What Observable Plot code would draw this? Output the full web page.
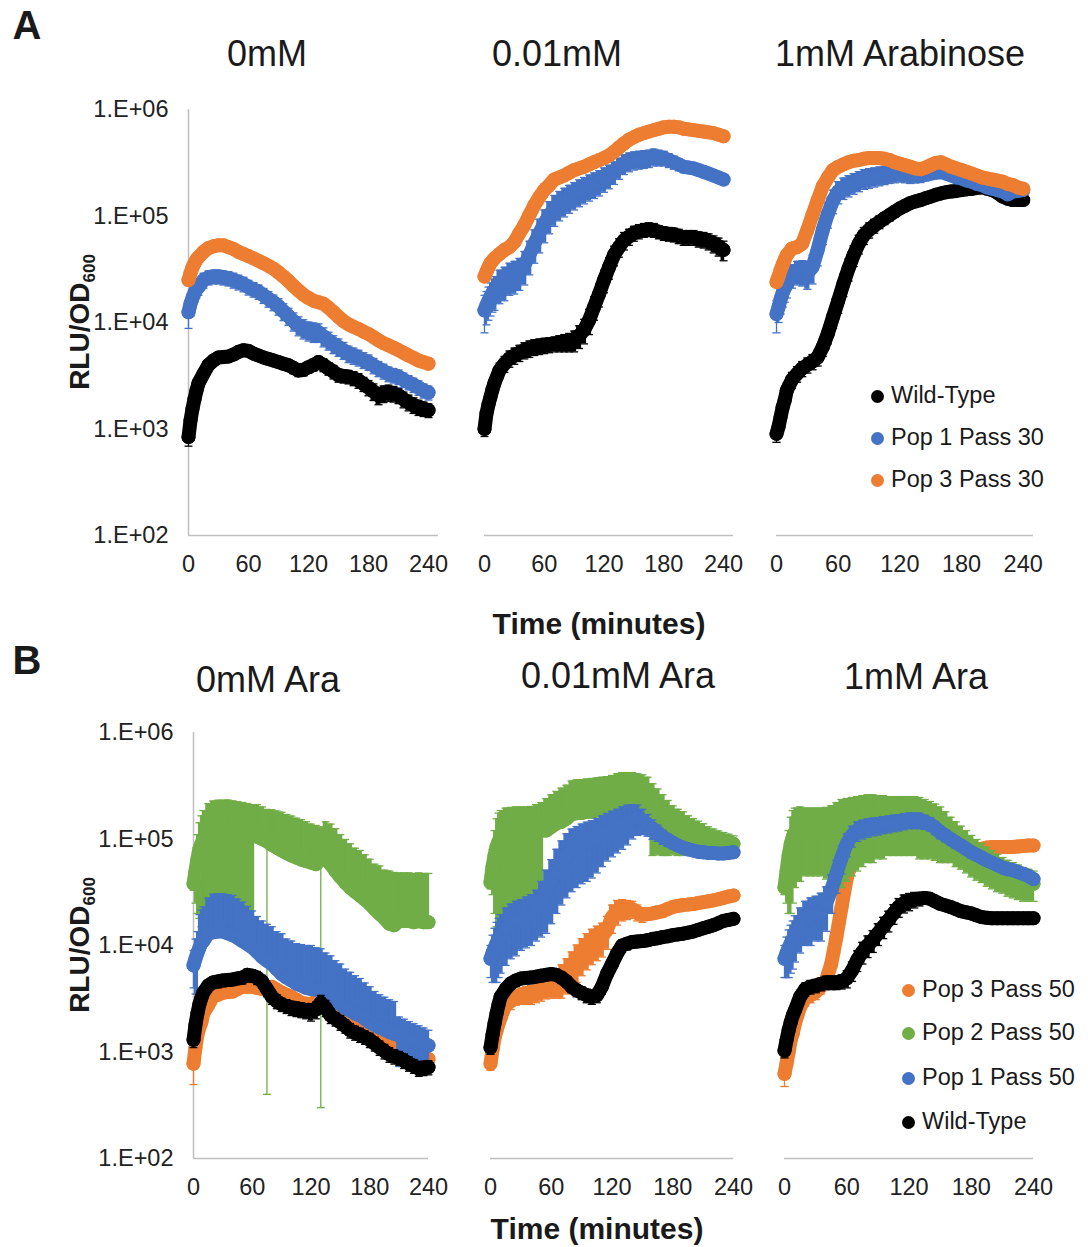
<!DOCTYPE html>
<html><head><meta charset="utf-8">
<script src="https://cdn.jsdelivr.net/npm/d3@7"></script>
<script src="https://cdn.jsdelivr.net/npm/@observablehq/plot@0.6"></script>
<style>
body{margin:0;background:#fff;}
#fig{position:relative;width:1088px;height:1247px;background:#fff;font-family:"Liberation Sans",Arial,sans-serif;color:#1a1a1a;overflow:hidden}
.abs{position:absolute;white-space:nowrap;line-height:1;transform:translate(-50%,-50%)}
.pnl{position:absolute}
.title{font-size:36px}
.letter{font-size:40px;font-weight:bold}
.xt{font-size:30px;font-weight:bold}
.yl{font-size:28px;font-weight:bold;transform:translate(-50%,-50%) rotate(-90deg)}
.lg{position:absolute;white-space:nowrap;line-height:1;font-size:23.5px;transform:translateY(-50%);color:#1a1a1a}
.ld{position:absolute;width:13px;height:13px;border-radius:50%}
</style></head>
<body><div id="fig"></div>
<script>
// ---------------- data ----------------
const times = [0,2,4,6,8,
  10,15,20,25,30,35,40,45,50,55,
  60,65,70,75,80,85,90,95,100,105,
  110,115,120,125,130,135,140,145,150,155,
  160,165,170,175,180,185,190,195,200,205,
  210,215,220,225,230,235,240];
const xTicks = [0,60,120,180,240];
const yTicks = [1e2,1e3,1e4,1e5,1e6];
const titlesA = ["0mM","0.01mM","1mM Arabinose"];
const titlesB = ["0mM Ara","0.01mM Ara","1mM Ara"];
const legendA = ["Wild-Type","Pop 1 Pass 30","Pop 3 Pass 30"];
const legendB = ["Pop 3 Pass 50","Pop 2 Pass 50","Pop 1 Pass 50","Wild-Type"];
const xAxisTitle = "Time (minutes)";

// Panel A1 (0mM)
const a1_wt = [840,1.2e3,1.55e3,1.9e3,2.3e3,
  2.7e3,3.3e3,4.0e3,4.4e3,4.7e3,4.75e3,4.8e3,5.0e3,5.3e3,5.5e3,
  5.4e3,5.1e3,4.9e3,4.7e3,4.55e3,4.4e3,4.25e3,4.1e3,3.97e3,3.75e3,
  3.55e3,3.6e3,3.8e3,4.0e3,4.25e3,4.0e3,3.7e3,3.45e3,3.2e3,3.15e3,
  3.1e3,3.0e3,2.86e3,2.65e3,2.45e3,2.25e3,2.07e3,2.15e3,2.2e3,2.15e3,
  2.07e3,1.9e3,1.78e3,1.68e3,1.6e3,1.55e3,1.5e3];
const a1_wt_sd = [150,200,250,300,300,
  350,400,450,450,450,450,450,450,500,500,
  500,450,450,450,450,450,450,450,450,450,
  450,450,450,500,550,550,500,500,450,450,
  450,450,450,400,400,400,380,380,380,360,
  340,320,300,280,260,240,220];
const a1_p1 = [1.25e4,1.5e4,1.7e4,1.9e4,2.05e4,
  2.15e4,2.5e4,2.65e4,2.7e4,2.7e4,2.65e4,2.6e4,2.5e4,2.4e4,2.3e4,
  2.15e4,2.05e4,1.95e4,1.8e4,1.67e4,1.55e4,1.42e4,1.27e4,1.15e4,1.03e4,
  9.4e3,8.8e3,8.4e3,8.2e3,8.1e3,7.4e3,6.8e3,6.3e3,5.9e3,5.5e3,
  5.1e3,4.9e3,4.7e3,4.45e3,4.25e3,3.95e3,3.7e3,3.5e3,3.3e3,3.2e3,
  3.1e3,2.9e3,2.75e3,2.6e3,2.45e3,2.3e3,2.2e3];
const a1_p1_sd = [3.7e3,3.5e3,3.5e3,3.5e3,3.5e3,
  3.5e3,4e3,4e3,4e3,4e3,4e3,4e3,4e3,3.8e3,3.6e3,
  3.4e3,3.2e3,3e3,2.9e3,2.8e3,2.6e3,2.5e3,2.3e3,2.1e3,2e3,
  1.9e3,1.8e3,1.7e3,1.7e3,1.6e3,1.5e3,1.3e3,1.2e3,1.1e3,1e3,
  900,850,800,750,700,650,600,560,520,500,
  480,450,420,400,380,350,330];
const a1_p3 = [2.5e4,2.9e4,3.3e4,3.6e4,3.9e4,
  4.1e4,4.6e4,5.0e4,5.2e4,5.3e4,5.3e4,5.1e4,4.9e4,4.6e4,4.4e4,
  4.2e4,4.0e4,3.8e4,3.6e4,3.4e4,3.2e4,2.95e4,2.7e4,2.45e4,2.2e4,
  2.0e4,1.82e4,1.7e4,1.6e4,1.55e4,1.5e4,1.38e4,1.25e4,1.13e4,1.03e4,
  9.6e3,9.1e3,8.7e3,8.2e3,7.8e3,7.3e3,6.8e3,6.4e3,6.1e3,5.8e3,
  5.5e3,5.2e3,4.9e3,4.65e3,4.4e3,4.25e3,4.1e3];

// Panel A2 (0.01mM)
const a2_wt = [1.0e3,1.4e3,1.7e3,2.0e3,2.35e3,
  2.7e3,3.55e3,4.1e3,4.6e3,4.9e3,5.2e3,5.5e3,5.7e3,5.9e3,6.0e3,
  6.1e3,6.2e3,6.3e3,6.4e3,6.5e3,6.6e3,6.8e3,7.5e3,8.5e3,1.05e4,
  1.4e4,1.85e4,2.5e4,3.3e4,4.3e4,5.1e4,5.9e4,6.4e4,6.9e4,7.2e4,
  7.4e4,7.5e4,7.4e4,7.1e4,6.9e4,6.8e4,6.7e4,6.5e4,6.3e4,6.3e4,
  6.3e4,6.1e4,6.0e4,5.8e4,5.5e4,5.2e4,4.8e4];
const a2_wt_sd = [150,250,300,400,450,
  500,600,700,800,850,900,950,1e3,1e3,1e3,
  1e3,1e3,1e3,1.1e3,1.2e3,1.3e3,1.5e3,1.8e3,2.2e3,2.8e3,
  3.5e3,4.5e3,6e3,7.5e3,9e3,1e4,1.1e4,1.1e4,1.1e4,1.1e4,
  1.1e4,1.1e4,1.1e4,1e4,1e4,1e4,1e4,1e4,1e4,1e4,
  1e4,1e4,1e4,1e4,1e4,1e4,1e4];
const a2_p1 = [1.3e4,1.45e4,1.6e4,1.75e4,1.9e4,
  2.0e4,2.3e4,2.45e4,2.7e4,2.8e4,3.0e4,3.45e4,4.3e4,5.5e4,6.9e4,
  8.5e4,1.02e5,1.18e5,1.3e5,1.4e5,1.5e5,1.6e5,1.7e5,1.8e5,1.9e5,
  2.0e5,2.1e5,2.25e5,2.4e5,2.6e5,2.85e5,3.1e5,3.25e5,3.35e5,3.4e5,
  3.45e5,3.5e5,3.6e5,3.55e5,3.5e5,3.35e5,3.2e5,3.05e5,2.9e5,2.85e5,
  2.8e5,2.7e5,2.6e5,2.5e5,2.4e5,2.3e5,2.2e5];
const a2_p1_sd = [5e3,5e3,5.5e3,6e3,6.5e3,
  7e3,8e3,8.5e3,9e3,9.5e3,1e4,1.2e4,1.5e4,1.9e4,2.4e4,
  2.9e4,3.4e4,3.8e4,4.0e4,4.2e4,4.4e4,4.6e4,4.8e4,5.0e4,5.2e4,
  5.4e4,5.6e4,5.8e4,6.0e4,6.2e4,6.4e4,6.5e4,6.5e4,6.5e4,6.5e4,
  6.5e4,6.5e4,6.5e4,6.0e4,5.5e4,5.0e4,4.5e4,4.0e4,3.5e4,3.2e4,
  3.0e4,2.8e4,2.6e4,2.4e4,2.2e4,2.0e4,1.8e4];
const a2_p3 = [2.7e4,3.0e4,3.3e4,3.6e4,3.8e4,
  4.0e4,4.4e4,4.8e4,5.1e4,5.7e4,6.9e4,8.2e4,1.02e5,1.26e5,1.5e5,
  1.75e5,1.95e5,2.2e5,2.3e5,2.4e5,2.55e5,2.7e5,2.8e5,2.9e5,3.05e5,
  3.2e5,3.35e5,3.5e5,3.7e5,4.0e5,4.4e5,4.8e5,5.2e5,5.5e5,5.8e5,
  6.0e5,6.2e5,6.4e5,6.6e5,6.8e5,6.9e5,6.9e5,6.8e5,6.6e5,6.5e5,
  6.4e5,6.3e5,6.2e5,6.1e5,6.0e5,5.8e5,5.6e5];
const a2_p3_sd = [2e3,2e3,2e3,2.5e3,2.5e3,
  3e3,3e3,3.5e3,4e3,5e3,7e3,1e4,1.4e4,1.8e4,2.2e4,
  2.5e4,2.5e4,2.5e4,2.5e4,2.5e4,2.5e4,2.5e4,2.5e4,2.5e4,2.5e4,
  2.5e4,2.5e4,2.5e4,3e4,3e4,3e4,3e4,3e4,3e4,3e4,
  3e4,3e4,3e4,3e4,3e4,3e4,3e4,3e4,3e4,3e4,
  3e4,3e4,3e4,3e4,3e4,3e4,3e4];

// Panel A3 (1mM Arabinose)
const a3_wt = [9.0e2,1.05e3,1.3e3,1.6e3,1.86e3,
  2.3e3,2.9e3,3.3e3,3.7e3,4.0e3,4.3e3,4.7e3,5.9e3,7.9e3,1.13e4,
  1.6e4,2.3e4,3.2e4,4.3e4,5.5e4,6.6e4,7.4e4,8.1e4,8.8e4,9.5e4,
  1.02e5,1.1e5,1.18e5,1.25e5,1.32e5,1.37e5,1.41e5,1.47e5,1.52e5,1.58e5,
  1.63e5,1.67e5,1.7e5,1.72e5,1.75e5,1.78e5,1.8e5,1.84e5,1.87e5,1.8e5,
  1.75e5,1.65e5,1.52e5,1.45e5,1.41e5,1.41e5,1.41e5];
const a3_wt_sd = [150,200,250,300,350,
  400,500,550,600,650,700,800,1.1e3,1.6e3,2.5e3,
  3.8e3,5.5e3,7.5e3,9.5e3,1.1e4,1.2e4,1.2e4,1.2e4,1.2e4,1.2e4,
  1.2e4,1.2e4,1.2e4,1.2e4,1.2e4,1.2e4,1.2e4,1.2e4,1.2e4,1.2e4,
  1.2e4,1.2e4,1.2e4,1.2e4,1.2e4,1.2e4,1.2e4,1.2e4,1.2e4,1.2e4,
  1.2e4,1.2e4,1.2e4,1.2e4,1.2e4,1.2e4,1.2e4];
const a3_p1 = [1.2e4,1.4e4,1.65e4,1.9e4,2.1e4,
  2.3e4,2.8e4,3.0e4,3.0e4,2.9e4,3.3e4,4.8e4,7.4e4,1.05e5,1.4e5,
  1.7e5,1.85e5,1.95e5,2.05e5,2.15e5,2.25e5,2.3e5,2.35e5,2.4e5,2.45e5,
  2.5e5,2.5e5,2.5e5,2.45e5,2.4e5,2.4e5,2.4e5,2.45e5,2.5e5,2.55e5,
  2.6e5,2.5e5,2.4e5,2.3e5,2.25e5,2.15e5,2.1e5,2.0e5,1.95e5,1.85e5,
  1.8e5,1.75e5,1.7e5,1.6e5,1.7e5,1.72e5,1.75e5];
const a3_p1_sd = [4e3,4e3,4.5e3,5e3,5.5e3,
  6e3,7e3,7.5e3,8e3,8.5e3,1e4,1.4e4,2e4,2.8e4,3.5e4,
  4e4,4.2e4,4.4e4,4.5e4,4.6e4,4.7e4,4.8e4,4.8e4,4.8e4,4.8e4,
  4.8e4,4.5e4,4.2e4,4e4,3.8e4,3.6e4,3.4e4,3.2e4,3e4,2.8e4,
  2.6e4,2.4e4,2.2e4,2e4,1.8e4,1.6e4,1.5e4,1.4e4,1.3e4,1.2e4,
  1.1e4,1e4,1e4,1e4,1e4,1e4,1e4];
const a3_p3 = [2.4e4,2.7e4,3.1e4,3.5e4,3.9e4,
  4.3e4,4.95e4,5.1e4,5.5e4,7.4e4,1.02e5,1.4e5,1.9e5,2.3e5,2.7e5,
  2.9e5,3.05e5,3.2e5,3.3e5,3.35e5,3.45e5,3.5e5,3.5e5,3.5e5,3.45e5,
  3.35e5,3.2e5,3.1e5,3.0e5,2.9e5,2.8e5,2.75e5,2.85e5,3.0e5,3.15e5,
  3.2e5,3.05e5,2.9e5,2.8e5,2.7e5,2.6e5,2.5e5,2.4e5,2.3e5,2.25e5,
  2.2e5,2.15e5,2.1e5,2.0e5,1.95e5,1.85e5,1.8e5];
const a3_p3_sd = [2e3,2e3,2.5e3,3e3,3e3,
  3.5e3,4e3,4e3,5e3,8e3,1.2e4,1.8e4,2.4e4,2.8e4,3e4,
  3e4,3e4,3e4,3e4,3e4,3e4,3e4,3e4,3e4,3e4,
  3e4,3e4,3e4,3e4,2.5e4,2.5e4,2.5e4,2.5e4,2.5e4,2.5e4,
  2.5e4,2.5e4,2.5e4,2e4,2e4,2e4,2e4,2e4,2e4,2e4,
  2e4,2e4,2e4,1.5e4,1.5e4,1.5e4,1.5e4];

// Panel B1 (0mM Ara)
const b1_p3 = [775,1.1e3,1.45e3,1.7e3,1.9e3,
  2.3e3,2.75e3,3.3e3,3.45e3,3.6e3,3.65e3,3.7e3,3.9e3,4.1e3,4.1e3,
  4.1e3,4.0e3,3.9e3,3.8e3,4.1e3,3.85e3,3.6e3,3.45e3,3.3e3,3.1e3,
  2.9e3,2.85e3,2.8e3,3.0e3,3.6e3,3.3e3,2.7e3,2.45e3,2.2e3,2.05e3,
  1.9e3,1.78e3,1.65e3,1.54e3,1.43e3,1.33e3,1.24e3,1.2e3,1.15e3,1.11e3,
  1.07e3,1.03e3,1.0e3,960,930,890,860];
const b1_p3_sd = [280,150,150,150,200,
  200,250,300,300,300,300,300,300,300,300,
  300,300,300,300,300,300,300,250,250,250,
  250,250,250,250,250,250,200,200,200,150,
  150,150,150,120,120,100,100,100,100,100,
  100,100,100,80,80,80,80];
const b1_p2 = [3.8e4,5e4,6.5e4,8e4,9e4,
  1.0e5,1.15e5,1.22e5,1.24e5,1.24e5,1.24e5,1.22e5,1.2e5,1.18e5,1.15e5,
  1.12e5,1.05e5,1.0e5,9.5e4,8.8e4,8.3e4,7.8e4,7.4e4,7.0e4,6.7e4,
  6.4e4,6.2e4,6.0e4,5.8e4,6.5e4,6.5e4,5.8e4,5.0e4,4.4e4,3.9e4,
  3.5e4,3.2e4,2.95e4,2.7e4,2.46e4,2.2e4,1.98e4,1.8e4,1.6e4,1.55e4,
  1.7e4,1.7e4,1.7e4,1.65e4,1.7e4,1.65e4,1.65e4];
const b1_p2_sd = [5e3,2.5e4,4.5e4,6.2e4,7.5e4,
  8.5e4,1.0e5,1.05e5,1.07e5,1.07e5,1.08e5,1.06e5,1.04e5,1.02e5,1.0e5,
  9.8e4,1.05e5,1.0e5,9.46e4,1.0e5,1.0e5,1.0e5,9.6e4,9.4e4,9.0e4,
  8.8e4,8.3e4,7.8e4,7.6e4,6.47e4,8.0e4,8.0e4,7.5e4,6.6e4,6.0e4,
  5.5e4,5.0e4,4.85e4,4.4e4,4.0e4,3.6e4,3.6e4,3.3e4,3.4e4,3.3e4,
  3.1e4,3.1e4,3.1e4,3.1e4,3.1e4,3.1e4,3.1e4];
const b1_p1 = [6.5e3,7.5e3,8.5e3,9.5e3,1.05e4,
  1.1e4,1.29e4,1.33e4,1.35e4,1.35e4,1.3e4,1.25e4,1.18e4,1.1e4,1.03e4,
  9.6e3,8.7e3,7.8e3,7.2e3,6.7e3,6.0e3,5.4e3,5.0e3,4.7e3,4.4e3,
  4.2e3,4.0e3,3.9e3,3.85e3,3.8e3,3.5e3,3.3e3,3.0e3,2.8e3,2.6e3,
  2.45e3,2.3e3,2.2e3,2.05e3,1.9e3,1.8e3,1.7e3,1.62e3,1.54e3,1.48e3,
  1.43e3,1.38e3,1.33e3,1.28e3,1.24e3,1.2e3,1.15e3];
const b1_p1_sd = [2.5e3,4e3,5e3,1.0e4,1.1e4,
  1.2e4,1.5e4,1.7e4,1.7e4,1.7e4,1.7e4,1.7e4,1.55e4,1.45e4,1.3e4,
  1.15e4,1.0e4,9.2e3,8.6e3,8.3e3,7.5e3,7.5e3,6.5e3,6.3e3,6.0e3,
  6.0e3,6.0e3,6.1e3,5.7e3,5.5e3,5.0e3,4.7e3,4.2e3,3.9e3,3.4e3,
  3.15e3,2.9e3,2.7e3,2.4e3,2.2e3,1.9e3,1.75e3,1.65e3,1.55e3,1.5e3,
  700,650,600,560,520,480,450];
const b1_wt = [1.3e3,1.8e3,2.3e3,2.8e3,3.2e3,
  3.6e3,4.2e3,4.5e3,4.6e3,4.7e3,4.75e3,4.8e3,4.9e3,5.0e3,5.3e3,
  5.2e3,5.0e3,4.6e3,3.9e3,3.3e3,3.0e3,2.8e3,2.7e3,2.6e3,2.55e3,
  2.5e3,2.45e3,2.4e3,2.5e3,2.9e3,2.6e3,2.2e3,2.05e3,1.9e3,1.75e3,
  1.6e3,1.52e3,1.45e3,1.38e3,1.3e3,1.2e3,1.1e3,1.02e3,950,910,
  880,830,780,740,700,710,720];
const b1_wt_sd = [200,250,300,350,400,
  450,500,550,600,600,600,600,600,650,700,
  700,700,650,600,500,450,400,400,400,400,
  400,400,450,450,500,450,350,300,300,250,
  250,230,220,200,200,180,170,160,150,140,
  130,130,120,110,110,110,110];

// Panel B2 (0.01mM Ara)
const b2_p3 = [775,1.05e3,1.35e3,1.6e3,1.85e3,
  2.1e3,2.8e3,3.0e3,3.3e3,3.4e3,3.45e3,3.5e3,3.7e3,3.9e3,4.15e3,
  4.4e3,4.6e3,4.9e3,5.5e3,6.3e3,7.3e3,8.4e3,9.4e3,1.04e4,1.12e4,
  1.2e4,1.4e4,1.85e4,2.1e4,2.2e4,2.2e4,2.2e4,2.05e4,1.95e4,1.97e4,
  2.0e4,2.05e4,2.1e4,2.2e4,2.3e4,2.35e4,2.4e4,2.42e4,2.45e4,2.5e4,
  2.55e4,2.6e4,2.65e4,2.72e4,2.8e4,2.88e4,2.95e4];
const b2_p3_sd = [100,150,200,250,300,
  350,450,500,550,600,650,700,800,900,1.0e3,
  1.2e3,1.4e3,1.7e3,2.0e3,2.4e3,2.8e3,3.2e3,3.5e3,3.8e3,4.0e3,
  4.2e3,4.8e3,5.5e3,5.5e3,5.0e3,4.5e3,4.0e3,3.5e3,3.0e3,2.5e3,
  2.2e3,2.0e3,2.0e3,2.0e3,2.0e3,2.0e3,2.0e3,2.0e3,2.0e3,2.0e3,
  2.0e3,2.0e3,2.0e3,2.0e3,2.0e3,2.0e3,2.0e3];
const b2_p2 = [3.9e4,5.5e4,7e4,8.5e4,9.5e4,
  1.0e5,1.05e5,1.08e5,1.1e5,1.1e5,1.1e5,1.12e5,1.15e5,1.2e5,1.2e5,
  1.3e5,1.4e5,1.45e5,1.55e5,1.7e5,1.75e5,1.75e5,1.8e5,1.8e5,1.85e5,
  1.85e5,1.9e5,1.95e5,2.0e5,2.05e5,2.05e5,2.05e5,2.0e5,2.0e5,1.9e5,
  2.0e5,1.83e5,1.65e5,1.5e5,1.38e5,1.3e5,1.25e5,1.18e5,1.12e5,1.09e5,
  1.05e5,1.0e5,9.7e4,9.5e4,9.3e4,9.2e4,9.0e4];
const b2_p2_sd = [5e3,2.5e4,5e4,7e4,8e4,
  8.5e4,9e4,9e4,9e4,9e4,9e4,9e4,9.5e4,1.0e5,1.2e5,
  1.3e5,1.4e5,1.55e5,1.65e5,1.8e5,1.85e5,1.85e5,1.85e5,1.9e5,1.9e5,
  1.95e5,1.95e5,2.0e5,2.1e5,2.15e5,2.15e5,2.15e5,2.1e5,2.0e5,1.9e5,
  1.3e5,1.12e5,9.5e4,8e4,6.7e4,6e4,5.5e4,4.7e4,4.3e4,3.8e4,
  3.4e4,3.0e4,2.7e4,2.4e4,2.2e4,1.9e4,1.7e4];
const b2_p1 = [7.5e3,8.5e3,9.5e3,1.05e4,1.15e4,
  1.25e4,1.45e4,1.6e4,1.7e4,1.8e4,1.9e4,2.0e4,2.2e4,2.6e4,3.2e4,
  4.0e4,5.0e4,6.0e4,7.0e4,7.8e4,8.3e4,8.8e4,9.2e4,9.6e4,1.02e5,
  1.1e5,1.18e5,1.25e5,1.32e5,1.4e5,1.48e5,1.55e5,1.58e5,1.5e5,1.38e5,
  1.25e5,1.15e5,1.05e5,9.8e4,9.2e4,8.7e4,8.3e4,8.0e4,7.8e4,7.6e4,
  7.5e4,7.4e4,7.4e4,7.3e4,7.3e4,7.4e4,7.5e4];
const b2_p1_sd = [2.5e3,4e3,5e3,6e3,6.5e3,
  7e3,8e3,8.5e3,9e3,9e3,9.5e3,1.0e4,1.1e4,1.4e4,1.9e4,
  2.4e4,3.0e4,3.6e4,4.2e4,4.6e4,4.8e4,5.0e4,5.2e4,5.3e4,5.4e4,
  5.5e4,5.6e4,5.7e4,5.8e4,6.0e4,6.0e4,5.5e4,5.0e4,4.0e4,3.2e4,
  2.6e4,2.0e4,1.6e4,1.3e4,1.1e4,9e3,8e3,7e3,6e3,5e3,
  5e3,4e3,4e3,4e3,4e3,4e3,4e3];
const b2_wt = [1.1e3,1.45e3,1.85e3,2.3e3,2.8e3,
  3.3e3,3.9e3,4.4e3,4.7e3,4.9e3,4.95e3,5.0e3,5.1e3,5.2e3,5.3e3,
  5.4e3,5.3e3,5.0e3,4.6e3,4.1e3,3.8e3,3.6e3,3.4e3,3.3e3,3.4e3,
  4.1e3,5.4e3,6.7e3,8.4e3,1.0e4,1.04e4,1.08e4,1.09e4,1.1e4,1.12e4,
  1.15e4,1.17e4,1.2e4,1.22e4,1.25e4,1.27e4,1.29e4,1.32e4,1.35e4,1.4e4,
  1.45e4,1.5e4,1.55e4,1.62e4,1.7e4,1.74e4,1.78e4];
const b2_wt_sd = [150,200,250,300,350,
  400,450,500,550,550,550,550,550,600,600,
  600,600,600,550,500,500,500,500,500,500,
  600,800,1.0e3,1.2e3,1.3e3,1.3e3,1.3e3,1.3e3,1.3e3,1.3e3,
  1.3e3,1.3e3,1.3e3,1.3e3,1.3e3,1.3e3,1.3e3,1.3e3,1.3e3,1.3e3,
  1.3e3,1.3e3,1.3e3,1.3e3,1.3e3,1.3e3,1.3e3];

// Panel B3 (1mM Ara)
const b3_p3 = [624,780,1.0e3,1.3e3,1.5e3,
  1.85e3,2.65e3,3.2e3,3.4e3,3.65e3,4.1e3,4.7e3,6.7e3,1.2e4,2.3e4,
  4.3e4,6.4e4,7.8e4,8.4e4,8.7e4,9.0e4,9.4e4,9.7e4,1.0e5,1.04e5,
  1.08e5,1.12e5,1.16e5,1.2e5,1.08e5,1.02e5,9.7e4,9.2e4,8.7e4,8.2e4,
  7.8e4,7.4e4,7.0e4,7.1e4,7.3e4,7.7e4,8.1e4,8.3e4,8.4e4,8.4e4,
  8.4e4,8.4e4,8.4e4,8.5e4,8.6e4,8.7e4,8.7e4];
const b3_p3_sd = [150,150,200,250,300,
  350,450,500,500,550,600,800,1.5e3,3.5e3,7e3,
  1.2e4,1.5e4,1.6e4,1.6e4,1.6e4,1.6e4,1.6e4,1.6e4,1.6e4,1.6e4,
  1.6e4,1.6e4,1.6e4,1.5e4,1.2e4,1.0e4,8e3,6e3,5e3,4e3,
  4e3,4e3,4e3,4e3,4e3,4e3,4e3,4e3,4e3,4e3,
  4e3,4e3,4e3,4e3,4e3,4e3,4e3];
const b3_p2 = [3.5e4,5e4,7e4,9e4,1.05e5,
  1.15e5,1.2e5,1.2e5,1.2e5,1.2e5,1.2e5,1.2e5,1.25e5,1.3e5,1.35e5,
  1.4e5,1.45e5,1.5e5,1.55e5,1.6e5,1.6e5,1.6e5,1.6e5,1.6e5,1.6e5,
  1.6e5,1.6e5,1.6e5,1.6e5,1.55e5,1.5e5,1.45e5,1.38e5,1.3e5,1.2e5,
  1.1e5,1.0e5,9.2e4,8.4e4,7.6e4,7.0e4,6.5e4,6.0e4,5.6e4,5.2e4,
  4.9e4,4.6e4,4.4e4,4.2e4,4.0e4,3.9e4,3.8e4];
const b3_p2_sd = [5e3,2.5e4,5e4,7e4,8e4,
  8e4,8e4,7.5e4,7.5e4,7.5e4,7.5e4,7.8e4,8e4,9e4,1.0e5,
  1.0e5,1.0e5,1.0e5,1.0e5,1.0e5,1.0e5,9.5e4,9.5e4,9e4,9e4,
  9e4,9e4,9e4,9e4,9e4,8.5e4,8e4,7.5e4,7e4,6e4,
  5e4,4.5e4,4e4,3.6e4,3.2e4,2.9e4,2.6e4,2.4e4,2.2e4,2.0e4,
  1.8e4,1.7e4,1.6e4,1.5e4,1.4e4,1.3e4,1.2e4];
const b3_p1 = [7.5e3,8.5e3,9.5e3,1.05e4,1.15e4,
  1.3e4,1.55e4,1.8e4,1.9e4,2.0e4,2.1e4,2.46e4,3.3e4,4.7e4,6.7e4,
  9.0e4,1.08e5,1.2e5,1.25e5,1.29e5,1.32e5,1.34e5,1.37e5,1.39e5,1.42e5,
  1.44e5,1.47e5,1.5e5,1.5e5,1.5e5,1.45e5,1.39e5,1.28e5,1.16e5,1.08e5,
  1.0e5,9.3e4,8.7e4,8.1e4,7.5e4,7.1e4,6.7e4,6.3e4,6.0e4,5.7e4,
  5.4e4,5.2e4,5.1e4,4.9e4,4.7e4,4.5e4,4.2e4];
const b3_p1_sd = [2.5e3,3.5e3,4.5e3,5e3,5.5e3,
  6e3,7e3,8e3,9e3,9e3,1.0e4,1.1e4,1.3e4,1.6e4,2.0e4,
  2.2e4,2.4e4,2.5e4,2.5e4,2.5e4,2.5e4,2.5e4,2.5e4,2.5e4,2.5e4,
  2.5e4,2.5e4,2.5e4,2.5e4,2.5e4,2.2e4,2.0e4,1.8e4,1.6e4,1.4e4,
  1.2e4,1.1e4,1.0e4,9e3,8e3,7e3,6e3,6e3,5e3,5e3,
  5e3,4e3,4e3,4e3,4e3,4e3,4e3];
const b3_wt = [1.03e3,1.3e3,1.6e3,1.9e3,2.2e3,
  2.45e3,3.3e3,3.9e3,4.1e3,4.2e3,4.35e3,4.5e3,4.5e3,4.5e3,4.6e3,
  4.9e3,5.8e3,7.3e3,8.7e3,1.0e4,1.12e4,1.3e4,1.5e4,1.72e4,2.0e4,
  2.3e4,2.5e4,2.6e4,2.7e4,2.75e4,2.8e4,2.75e4,2.6e4,2.46e4,2.38e4,
  2.3e4,2.2e4,2.1e4,2.05e4,2.0e4,1.92e4,1.85e4,1.82e4,1.8e4,1.8e4,
  1.8e4,1.8e4,1.8e4,1.8e4,1.8e4,1.8e4,1.8e4];
const b3_wt_sd = [150,200,250,300,350,
  400,500,550,600,600,600,650,650,650,700,
  900,1.2e3,1.6e3,2.0e3,2.3e3,2.6e3,3.0e3,3.4e3,3.8e3,4.2e3,
  4.6e3,4.8e3,4.8e3,4.5e3,4.0e3,3.5e3,3.0e3,2.5e3,2.2e3,2.0e3,
  1.8e3,1.6e3,1.5e3,1.4e3,1.3e3,1.2e3,1.2e3,1.2e3,1.2e3,1.2e3,
  1.2e3,1.2e3,1.2e3,1.2e3,1.2e3,1.2e3,1.2e3];

// ---------------- drawing ----------------
const C = {wt:"#000000", p1:"#4472C4", p2:"#70AD47", p3:"#ED7D31"};
const AXIS = "#bfbfbf";
const R = 7, CAP = 4, EW = 1.3;

function rows(name, vals, sds) {
  if (vals.length !== times.length) throw new Error(name + " has " + vals.length + " values");
  if (sds && sds.length !== times.length) throw new Error(name + " sd has " + sds.length + " values");
  return times.map((t, i) => ({t, v: vals[i], sd: sds ? sds[i] : 0}));
}

function seriesMarks(data, color) {
  const out = [];
  const e = data.filter(d => d.sd > 0).map(d => ({t: d.t, v: d.v, hi: d.v + d.sd, lo: d.v - d.sd > 0 ? d.v - d.sd : null}));
  if (e.length) {
    // densely packed error bars read as a filled band
    out.push(Plot.areaY(e, {x: "t", y1: d => (d.lo != null && d.lo / d.v > 0.05) ? d.lo : d.v, y2: "hi", fill: color, curve: "step"}));
    out.push(Plot.ruleX(e, {x: "t", y1: d => d.lo ?? d.v, y2: "hi", stroke: color, strokeWidth: EW}));
    out.push(Plot.link(e, {x1: d => d.t - CAP, x2: d => d.t + CAP, y1: "hi", y2: "hi", stroke: color, strokeWidth: EW}));
    const el = e.filter(d => d.lo != null);
    out.push(Plot.link(el, {x1: d => d.t - CAP, x2: d => d.t + CAP, y1: "lo", y2: "lo", stroke: color, strokeWidth: EW}));
  }
  // dense markers merge into a band of marker width
  out.push(Plot.line(data, {x: "t", y: "v", stroke: color, strokeWidth: 2 * R, strokeLinecap: "round", strokeLinejoin: "round"}));
  out.push(Plot.dot(data, {x: "t", y: "v", r: R, fill: color}));
  return out;
}

const fig = document.getElementById("fig");

function panel(cfg) {
  const marks = [Plot.ruleY([100], {stroke: AXIS, strokeWidth: 1.5})];
  if (cfg.showY) marks.push(Plot.ruleX([0], {stroke: AXIS, strokeWidth: 1.5}));
  marks.push(Plot.axisX({ticks: xTicks, tickSize: 0, tickPadding: 20, tickFormat: d => String(d), label: null}));
  if (cfg.showY) marks.push(Plot.axisY({ticks: yTicks, tickSize: 0, tickPadding: 20,
    tickFormat: d => "1.E+" + String(Math.round(Math.log10(d))).padStart(2, "0"), label: null}));
  for (const s of cfg.series) marks.push(...seriesMarks(s.data, s.color));
  const svg = Plot.plot({
    width: cfg.w, height: cfg.h,
    marginLeft: cfg.ml, marginRight: cfg.mr, marginTop: cfg.mt, marginBottom: cfg.mb,
    x: {domain: cfg.xDomain},
    y: cfg.showY ? {type: "log", domain: [100, 1e6]} : {type: "log", domain: [100, 1e6], axis: null},
    style: {fontFamily: "Liberation Sans, Arial, sans-serif", fontSize: "23.5px", color: "#222",
            overflow: "visible", background: "transparent", maxWidth: "none"},
    marks
  });
  const div = document.createElement("div");
  div.className = "pnl";
  div.style.left = cfg.left + "px";
  div.style.top = cfg.top + "px";
  div.appendChild(svg);
  fig.appendChild(div);
}

// Row A (legend order: WT, Pop1, Pop3 -> drawn in that order)
const rowA = [
  {left: 0, ml: 188, mr: 22, w: 460, showY: true,
   series: [{data: rows("a1_wt", a1_wt, a1_wt_sd), color: C.wt}, {data: rows("a1_p1", a1_p1, a1_p1_sd), color: C.p1}, {data: rows("a1_p3", a1_p3, null), color: C.p3}]},
  {left: 460, ml: 24, mr: 27, w: 300, showY: false,
   series: [{data: rows("a2_wt", a2_wt, a2_wt_sd), color: C.wt}, {data: rows("a2_p1", a2_p1, a2_p1_sd), color: C.p1}, {data: rows("a2_p3", a2_p3, a2_p3_sd), color: C.p3}]},
  {left: 760, ml: 16, mr: 55, w: 328, showY: false,
   series: [{data: rows("a3_wt", a3_wt, a3_wt_sd), color: C.wt}, {data: rows("a3_p1", a3_p1, a3_p1_sd), color: C.p1}, {data: rows("a3_p3", a3_p3, a3_p3_sd), color: C.p3}]}
];
for (const p of rowA) panel({...p, top: 90, h: 510, mt: 19, mb: 65, xDomain: [0, 250]});

// Row B (legend order: Pop3, Pop2, Pop1, WT -> drawn in that order)
const rowB = [
  {left: 0, ml: 193, mr: 32, w: 460, showY: true,
   series: [{data: rows("b1_p3", b1_p3, b1_p3_sd), color: C.p3}, {data: rows("b1_p2", b1_p2, b1_p2_sd), color: C.p2}, {data: rows("b1_p1", b1_p1, b1_p1_sd), color: C.p1}, {data: rows("b1_wt", b1_wt, b1_wt_sd), color: C.wt}]},
  {left: 460, ml: 30, mr: 27, w: 300, showY: false,
   series: [{data: rows("b2_p3", b2_p3, b2_p3_sd), color: C.p3}, {data: rows("b2_p2", b2_p2, b2_p2_sd), color: C.p2}, {data: rows("b2_p1", b2_p1, b2_p1_sd), color: C.p1}, {data: rows("b2_wt", b2_wt, b2_wt_sd), color: C.wt}]},
  {left: 760, ml: 24, mr: 55, w: 328, showY: false,
   series: [{data: rows("b3_p3", b3_p3, b3_p3_sd), color: C.p3}, {data: rows("b3_p2", b3_p2, b3_p2_sd), color: C.p2}, {data: rows("b3_p1", b3_p1, b3_p1_sd), color: C.p1}, {data: rows("b3_wt", b3_wt, b3_wt_sd), color: C.wt}]}
];
for (const p of rowB) panel({...p, top: 710, h: 530, mt: 22, mb: 82, xDomain: [0, 240]});

// ---------------- text ----------------
function text(str, cls, cx, cy, html) {
  const d = document.createElement("div");
  d.className = "abs " + cls;
  if (html) d.innerHTML = str; else d.textContent = str;
  d.style.left = cx + "px";
  d.style.top = cy + "px";
  fig.appendChild(d);
}
text("A", "letter", 27, 25);
text("B", "letter", 27, 660);
[[267, 54], [557, 54], [900, 54]].forEach((p, i) => text(titlesA[i], "title", p[0], p[1]));
[[268, 680], [618, 676], [916, 677]].forEach((p, i) => text(titlesB[i], "title", p[0], p[1]));
text(xAxisTitle, "xt", 599, 624);
text(xAxisTitle, "xt", 597, 1229);
const yLab = 'RLU/OD<span style="font-size:17px;position:relative;top:6px">600</span>';
text(yLab, "yl", 80, 322, true);
text(yLab, "yl", 80, 945, true);

function legend(labels, colors, dotX, textX, ys) {
  labels.forEach((lab, i) => {
    const dot = document.createElement("div");
    dot.className = "ld";
    dot.style.left = (dotX - 6.5) + "px";
    dot.style.top = (ys[i] - 6.5) + "px";
    dot.style.background = colors[i];
    fig.appendChild(dot);
    const t = document.createElement("div");
    t.className = "lg";
    t.textContent = lab;
    t.style.left = textX + "px";
    t.style.top = ys[i] + "px";
    fig.appendChild(t);
  });
}
legend(legendA, [C.wt, C.p1, C.p3], 877, 891, [396, 438, 480]);
legend(legendB, [C.p3, C.p2, C.p1, C.wt], 908, 922, [990, 1033, 1078, 1122]);
</script>
</body></html>
